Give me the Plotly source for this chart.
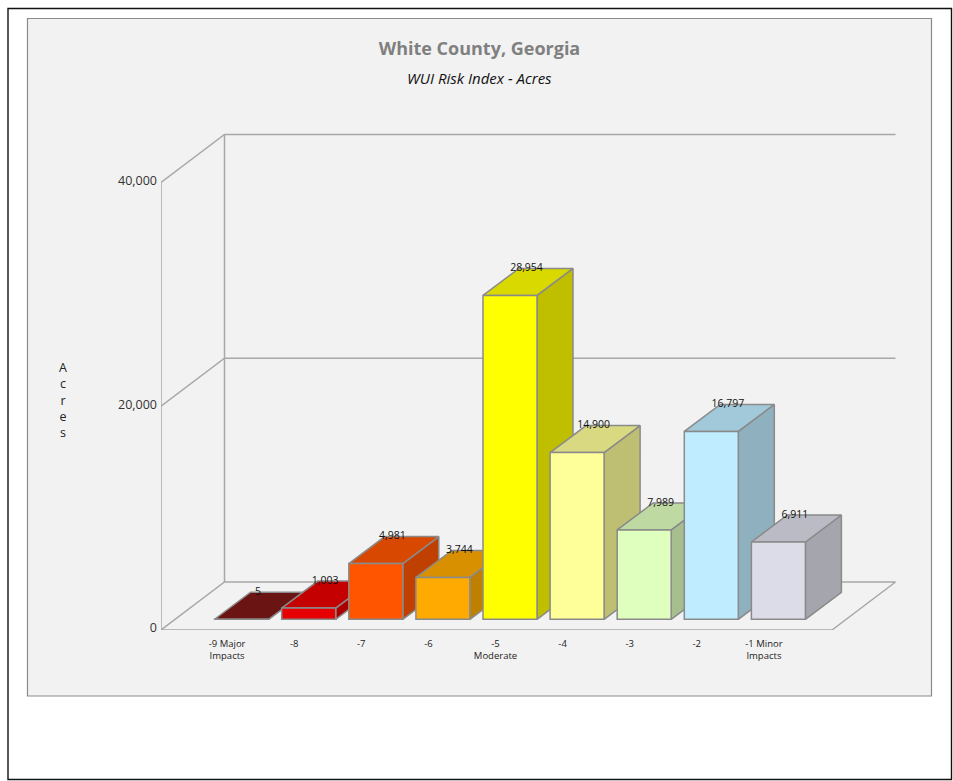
import plotly.graph_objects as go

# ---- data ----
categories = [1, 2, 3, 4, 5, 6, 7, 8, 9]
tick_labels = ["-9 Major<br>Impacts", "-8", "-7", "-6", "-5<br>Moderate", "-4", "-3", "-2", "-1 Minor<br>Impacts"]
acres = [5, 1003, 4981, 3744, 28954, 14900, 7989, 16797, 6911]
value_text = ["5", "1,003", "4,981", "3,744", "28,954", "14,900", "7,989", "16,797", "6,911"]
y_ticks = [0, 20000, 40000]
y_tick_labels = ["0", "20,000", "40,000"]

# ---- styles ----
front_colors = ["#6b1414", "#e60000", "#ff5500", "#ffaa00", "#ffff00", "#ffff99", "#dfffbf", "#bfecff", "#dcdce8"]
GRID = "#a8a8a8"
EDGE = "#8a8a8a"
FONT = "Open Sans"
W, H = 953, 781

# ---- pixel-to-data scale of the pseudo-3D projection ----
X_L, X_UNIT = 161.0, 67.1          # px of x=0, px per category
Y_B, Y_UNIT = 630.0, 447.5 / 40000 # px of y=0, px per acre
x_max, y_max = 11.0, 44500.0


def dx(px):
    return px / X_UNIT


def dy(px):
    return px / Y_UNIT


floor_dx, floor_dy = dx(63.5), dy(48)
bar_shift, bar_base = dx(13.5), dy(10.7)
bar_width = dx(54)
depth_x, depth_y = dx(36), dy(27)
FACE_TOP, FACE_SIDE = 0.85, 0.75


def shade(hex_color, k):
    r, g, b = (int(hex_color[i:i + 2], 16) for i in (1, 3, 5))
    return "#%02x%02x%02x" % (round(r * k), round(g * k), round(b * k))


fig = go.Figure()

# walls and floor
wall_x, wall_y = [], []
for v in y_ticks[1:]:
    wall_x += [0, floor_dx, 10 + floor_dx, None]
    wall_y += [v, v + floor_dy, v + floor_dy, None]
wall_x += [0, 0, None, floor_dx, floor_dx, None, 0, 10, 10 + floor_dx, floor_dx, 0]
wall_y += [0, y_ticks[-1], None, floor_dy, y_ticks[-1] + floor_dy, None, 0, 0, floor_dy, floor_dy, 0]
fig.add_trace(go.Scatter(x=wall_x, y=wall_y, mode="lines", line=dict(color=GRID, width=1.5),
                         hoverinfo="skip", showlegend=False, zorder=0))

# bars, back to front
for i, (c, v, col) in enumerate(zip(categories, acres, front_colors)):
    left = c + bar_shift - bar_width / 2
    right = c + bar_shift + bar_width / 2
    bottom, top = bar_base, bar_base + v
    top_col = col if i == 0 else shade(col, FACE_TOP)
    side_col = col if i == 0 else shade(col, FACE_SIDE)
    fig.add_trace(go.Scatter(
        x=[right, right + depth_x, right + depth_x, right, right],
        y=[top, top + depth_y, bottom + depth_y, bottom, top],
        mode="lines", fill="toself", fillcolor=side_col, line=dict(color=EDGE, width=1.5),
        hoverinfo="skip", showlegend=False, zorder=2 * i + 1))
    fig.add_trace(go.Scatter(
        x=[left, right, right + depth_x, left + depth_x, left],
        y=[top, top, top + depth_y, top + depth_y, top],
        mode="lines", fill="toself", fillcolor=top_col, line=dict(color=EDGE, width=1.5),
        hoverinfo="skip", showlegend=False, zorder=2 * i + 1))
    fig.add_trace(go.Bar(
        x=[c + bar_shift], y=[v], base=[bottom], width=[bar_width],
        marker=dict(color=col, line=dict(color=EDGE, width=1.5)),
        hovertemplate=value_text[i] + "<extra></extra>", showlegend=False, zorder=2 * i + 2))

# value labels
fig.add_trace(go.Scatter(
    x=[c + bar_shift + depth_x / 2 - dx(1.5) for c in categories],
    y=[bar_base + v + depth_y for v in acres],
    mode="text", text=value_text, textposition="middle center",
    textfont=dict(family=FONT, size=10.5, color="#111111"),
    hoverinfo="skip", showlegend=False, zorder=100))

fig.update_layout(
    width=W, height=H, autosize=False,
    margin=dict(l=0, r=0, t=0, b=0),
    paper_bgcolor="white", plot_bgcolor="rgba(0,0,0,0)",
    barmode="overlay",
    xaxis=dict(domain=[X_L / W, (X_L + x_max * X_UNIT) / W], range=[0, x_max], automargin=False,
               tickmode="array", tickvals=categories, ticktext=tick_labels,
               showgrid=False, zeroline=False, showline=False, ticks="",
               ticklabelstandoff=6, ticklabelshift=-1, tickangle=0,
               tickfont=dict(family=FONT, size=9.5, color="#222222")),
    yaxis=dict(domain=[(H - Y_B) / H, (H - Y_B + y_max * Y_UNIT) / H], range=[0, y_max], automargin=False,
               tickmode="array", tickvals=y_ticks, ticktext=y_tick_labels,
               showgrid=False, zeroline=False, showline=False, ticks="",
               ticklabelstandoff=3, ticklabelshift=-2,
               tickfont=dict(family=FONT, size=12.5, color="#333333")),
    title=dict(text="<b>White County, Georgia</b>", x=479.5 / W, xanchor="center",
               y=1 - 49 / H, yanchor="middle", yref="container",
               font=dict(family=FONT, size=18, color="#808080")),
    annotations=[
        dict(text="<i>WUI Risk Index - Acres</i>", xref="paper", yref="paper",
             x=479.5 / W, y=1 - 78 / H, showarrow=False, xanchor="center", yanchor="middle",
             font=dict(family=FONT, size=15, color="#111111")),
        dict(text="A<br>c<br>r<br>e<br>s", xref="paper", yref="paper",
             x=63 / W, y=1 - 399.5 / H, showarrow=False, xanchor="center", yanchor="middle",
             font=dict(family=FONT, size=12.5, color="#222222")),
    ],
    shapes=[
        dict(type="rect", xref="paper", yref="paper", layer="below",
             x0=8 / W, x1=951.5 / W, y0=1 - 779.5 / H, y1=1 - 8.5 / H,
             line=dict(color="#111111", width=1.4), fillcolor="white"),
        dict(type="rect", xref="paper", yref="paper", layer="below",
             x0=27.5 / W, x1=931.5 / W, y0=1 - 696 / H, y1=1 - 18.5 / H,
             line=dict(color="#8a8a8a", width=1.2), fillcolor="#f2f2f2"),
    ],
)

fig.write_html("out.html", config=dict(displayModeBar=False),
               post_script="document.body.style.margin='0';document.documentElement.style.overflow='hidden';")
